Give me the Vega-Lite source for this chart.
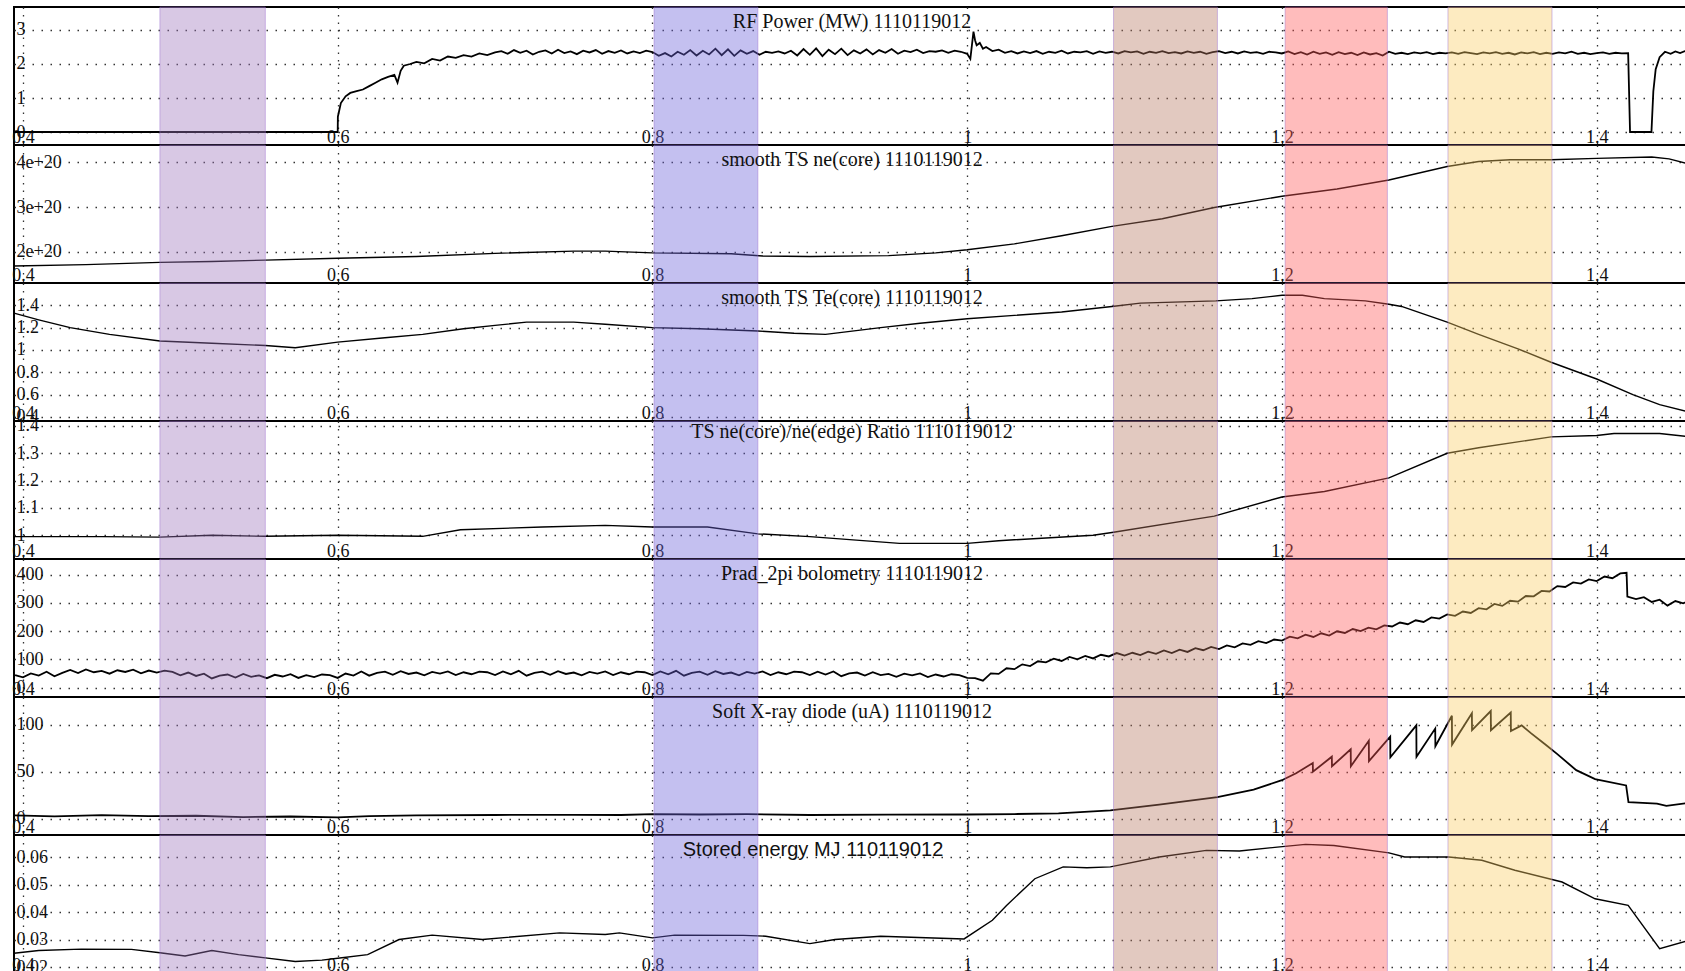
{
  "$schema": "https://vega.github.io/schema/vega-lite/v6.json",
  "padding": {"left": 9, "top": 5, "right": 0, "bottom": 0},
  "spacing": 0,
  "bounds": "flush",
  "background": "white",
  "config": {
    "view": {"stroke": "black", "strokeWidth": 2, "fill": "white"},
    "axis": {"domain": false, "ticks": false, "tickSize": 0, "grid": true, "gridColor": "#333333", "gridWidth": 1.3, "labelFont": "Liberation Serif", "labelFontSize": 18, "labelColor": "#111111", "title": null, "labelOverlap": false, "labelFlush": false, "zindex": 1, "format": ".3~g"},
    "axisX": {"labelBaseline": "alphabetic", "labelPadding": -3, "gridDash": [1.5, 6]},
    "axisY": {"labelAlign": "left", "labelPadding": -2, "labelBaseline": "middle", "gridDash": [1.5, 7.5]},
    "title": {"font": "Liberation Serif", "fontSize": 20, "fontWeight": "normal", "color": "#111111", "anchor": "middle", "baseline": "top", "offset": -25, "frame": "group"},
    "line": {"color": "black", "strokeWidth": 1.4, "clip": true},
    "rect": {"fillOpacity": 0.4, "stroke": "#9b6fd0", "strokeOpacity": 0.45, "strokeWidth": 1}
  },
  "datasets": {
    "bands": [
      {"t0": 0.487, "t1": 0.554, "c": "a"},
      {"t0": 0.801, "t1": 0.867, "c": "b"},
      {"t0": 1.093, "t1": 1.159, "c": "c"},
      {"t0": 1.202, "t1": 1.267, "c": "d"},
      {"t0": 1.3055, "t1": 1.3716, "c": "e"}
    ],
    "rf": [
      {"t": 0.3943, "v": 0}, {"t": 0.6, "v": 0}, {"t": 0.6001, "v": 0.45}, {"t": 0.602, "v": 0.85}, {"t": 0.605, "v": 1.05}, {"t": 0.608, "v": 1.15}, {"t": 0.612, "v": 1.2}, {"t": 0.616, "v": 1.25}, {"t": 0.62, "v": 1.35}, {"t": 0.624, "v": 1.45}, {"t": 0.628, "v": 1.55}, {"t": 0.632, "v": 1.62}, {"t": 0.636, "v": 1.68}, {"t": 0.638, "v": 1.45}, {"t": 0.64, "v": 1.8}, {"t": 0.642, "v": 1.95}, {"t": 0.646, "v": 2.0}, {"t": 0.65, "v": 2.06}, {"t": 0.655, "v": 2.02}, {"t": 0.66, "v": 2.15}, {"t": 0.665, "v": 2.1}, {"t": 0.67, "v": 2.22}, {"t": 0.675, "v": 2.18}, {"t": 0.68, "v": 2.26}, {"t": 0.685, "v": 2.22}, {"t": 0.69, "v": 2.31}, {"t": 0.695, "v": 2.26}, {"t": 0.7, "v": 2.34},
      {"t": 0.704, "v": 2.38}, {"t": 0.708, "v": 2.3}, {"t": 0.712, "v": 2.41}, {"t": 0.716, "v": 2.33}, {"t": 0.72, "v": 2.39}, {"t": 0.724, "v": 2.28}, {"t": 0.728, "v": 2.36}, {"t": 0.732, "v": 2.4}, {"t": 0.736, "v": 2.31}, {"t": 0.74, "v": 2.42}, {"t": 0.744, "v": 2.32}, {"t": 0.748, "v": 2.37}, {"t": 0.752, "v": 2.29}, {"t": 0.756, "v": 2.39}, {"t": 0.76, "v": 2.34}, {"t": 0.764, "v": 2.41}, {"t": 0.768, "v": 2.3}, {"t": 0.772, "v": 2.38}, {"t": 0.776, "v": 2.33}, {"t": 0.78, "v": 2.4}, {"t": 0.784, "v": 2.31}, {"t": 0.788, "v": 2.37}, {"t": 0.792, "v": 2.32}, {"t": 0.796, "v": 2.39}, {"t": 0.8, "v": 2.35},
      {"t": 0.804, "v": 2.24}, {"t": 0.808, "v": 2.32}, {"t": 0.812, "v": 2.22}, {"t": 0.816, "v": 2.36}, {"t": 0.82, "v": 2.27}, {"t": 0.824, "v": 2.41}, {"t": 0.828, "v": 2.25}, {"t": 0.832, "v": 2.39}, {"t": 0.836, "v": 2.28}, {"t": 0.84, "v": 2.45}, {"t": 0.844, "v": 2.26}, {"t": 0.848, "v": 2.43}, {"t": 0.852, "v": 2.24}, {"t": 0.856, "v": 2.4}, {"t": 0.86, "v": 2.3}, {"t": 0.864, "v": 2.38}, {"t": 0.868, "v": 2.27}, {"t": 0.872, "v": 2.36}, {"t": 0.876, "v": 2.33}, {"t": 0.88, "v": 2.37}, {"t": 0.884, "v": 2.31}, {"t": 0.888, "v": 2.39}, {"t": 0.892, "v": 2.25}, {"t": 0.896, "v": 2.44}, {"t": 0.9, "v": 2.27}, {"t": 0.904, "v": 2.46}, {"t": 0.908, "v": 2.23}, {"t": 0.912, "v": 2.42}, {"t": 0.916, "v": 2.29}, {"t": 0.92, "v": 2.45}, {"t": 0.924, "v": 2.26}, {"t": 0.928, "v": 2.4}, {"t": 0.932, "v": 2.31}, {"t": 0.936, "v": 2.43}, {"t": 0.94, "v": 2.28}, {"t": 0.944, "v": 2.41}, {"t": 0.948, "v": 2.33}, {"t": 0.952, "v": 2.44}, {"t": 0.956, "v": 2.3}, {"t": 0.96, "v": 2.39}, {"t": 0.964, "v": 2.35}, {"t": 0.968, "v": 2.42}, {"t": 0.972, "v": 2.32}, {"t": 0.976, "v": 2.38}, {"t": 0.98, "v": 2.36}, {"t": 0.984, "v": 2.4}, {"t": 0.988, "v": 2.33}, {"t": 0.992, "v": 2.39}, {"t": 0.996, "v": 2.36}, {"t": 1.0, "v": 2.3},
      {"t": 1.002, "v": 2.15}, {"t": 1.004, "v": 2.95}, {"t": 1.005, "v": 2.7}, {"t": 1.006, "v": 2.55}, {"t": 1.008, "v": 2.62}, {"t": 1.01, "v": 2.45}, {"t": 1.012, "v": 2.5}, {"t": 1.016, "v": 2.38}, {"t": 1.02, "v": 2.42}, {"t": 1.024, "v": 2.33}, {"t": 1.028, "v": 2.38}, {"t": 1.032, "v": 2.31}, {"t": 1.036, "v": 2.37}, {"t": 1.04, "v": 2.32}, {"t": 1.044, "v": 2.38}, {"t": 1.048, "v": 2.3}, {"t": 1.052, "v": 2.36}, {"t": 1.056, "v": 2.33}, {"t": 1.06, "v": 2.39}, {"t": 1.064, "v": 2.31}, {"t": 1.068, "v": 2.36}, {"t": 1.072, "v": 2.34}, {"t": 1.076, "v": 2.38}, {"t": 1.08, "v": 2.3}, {"t": 1.084, "v": 2.37}, {"t": 1.088, "v": 2.33}, {"t": 1.092, "v": 2.36}, {"t": 1.096, "v": 2.31}, {"t": 1.1, "v": 2.38}, {"t": 1.104, "v": 2.34}, {"t": 1.108, "v": 2.37}, {"t": 1.112, "v": 2.3}, {"t": 1.116, "v": 2.36}, {"t": 1.12, "v": 2.33}, {"t": 1.124, "v": 2.38}, {"t": 1.128, "v": 2.32}, {"t": 1.132, "v": 2.35}, {"t": 1.136, "v": 2.31}, {"t": 1.14, "v": 2.37}, {"t": 1.144, "v": 2.33}, {"t": 1.148, "v": 2.36}, {"t": 1.152, "v": 2.3}, {"t": 1.156, "v": 2.35}, {"t": 1.16, "v": 2.38}, {"t": 1.164, "v": 2.32}, {"t": 1.168, "v": 2.36}, {"t": 1.172, "v": 2.31}, {"t": 1.176, "v": 2.37}, {"t": 1.18, "v": 2.33}, {"t": 1.184, "v": 2.35}, {"t": 1.188, "v": 2.3}, {"t": 1.192, "v": 2.36}, {"t": 1.196, "v": 2.34}, {"t": 1.2, "v": 2.31},
      {"t": 1.204, "v": 2.37}, {"t": 1.208, "v": 2.29}, {"t": 1.212, "v": 2.35}, {"t": 1.216, "v": 2.28}, {"t": 1.22, "v": 2.36}, {"t": 1.224, "v": 2.3}, {"t": 1.228, "v": 2.34}, {"t": 1.232, "v": 2.27}, {"t": 1.236, "v": 2.35}, {"t": 1.24, "v": 2.29}, {"t": 1.244, "v": 2.33}, {"t": 1.248, "v": 2.26}, {"t": 1.252, "v": 2.34}, {"t": 1.256, "v": 2.28}, {"t": 1.26, "v": 2.32}, {"t": 1.264, "v": 2.25}, {"t": 1.268, "v": 2.36}, {"t": 1.272, "v": 2.3}, {"t": 1.276, "v": 2.33}, {"t": 1.28, "v": 2.29}, {"t": 1.284, "v": 2.34}, {"t": 1.288, "v": 2.31}, {"t": 1.292, "v": 2.35}, {"t": 1.296, "v": 2.29}, {"t": 1.3, "v": 2.33}, {"t": 1.304, "v": 2.31}, {"t": 1.308, "v": 2.34}, {"t": 1.312, "v": 2.3}, {"t": 1.316, "v": 2.35}, {"t": 1.32, "v": 2.32}, {"t": 1.324, "v": 2.29}, {"t": 1.328, "v": 2.34}, {"t": 1.332, "v": 2.31}, {"t": 1.336, "v": 2.35}, {"t": 1.34, "v": 2.3}, {"t": 1.344, "v": 2.33}, {"t": 1.348, "v": 2.28}, {"t": 1.352, "v": 2.34}, {"t": 1.356, "v": 2.31}, {"t": 1.36, "v": 2.35}, {"t": 1.364, "v": 2.29}, {"t": 1.368, "v": 2.33}, {"t": 1.372, "v": 2.3}, {"t": 1.376, "v": 2.34}, {"t": 1.38, "v": 2.31}, {"t": 1.384, "v": 2.36}, {"t": 1.388, "v": 2.3}, {"t": 1.392, "v": 2.33}, {"t": 1.396, "v": 2.29}, {"t": 1.4, "v": 2.32}, {"t": 1.404, "v": 2.34}, {"t": 1.408, "v": 2.3}, {"t": 1.412, "v": 2.33}, {"t": 1.416, "v": 2.31}, {"t": 1.42, "v": 2.32},
      {"t": 1.4212, "v": 0}, {"t": 1.4348, "v": 0}, {"t": 1.436, "v": 1.2}, {"t": 1.4375, "v": 1.85}, {"t": 1.44, "v": 2.2}, {"t": 1.4434, "v": 2.36}, {"t": 1.447, "v": 2.3}, {"t": 1.45, "v": 2.37}, {"t": 1.453, "v": 2.32}, {"t": 1.456, "v": 2.38}, {"t": 1.46, "v": 2.34}
    ],
    "ne": [
      {"t": 0.3943, "v": 1.69e20}, {"t": 0.44, "v": 1.72e20}, {"t": 0.487, "v": 1.77e20}, {"t": 0.52, "v": 1.79e20}, {"t": 0.554, "v": 1.82e20}, {"t": 0.6, "v": 1.86e20}, {"t": 0.65, "v": 1.9e20}, {"t": 0.7, "v": 1.97e20}, {"t": 0.75, "v": 2.02e20}, {"t": 0.77, "v": 2.02e20}, {"t": 0.8, "v": 1.98e20}, {"t": 0.85, "v": 1.96e20}, {"t": 0.87, "v": 1.91e20}, {"t": 0.9, "v": 1.9e20}, {"t": 0.95, "v": 1.92e20}, {"t": 0.98, "v": 1.98e20}, {"t": 1.0, "v": 2.05e20}, {"t": 1.03, "v": 2.18e20}, {"t": 1.06, "v": 2.36e20}, {"t": 1.092, "v": 2.57e20}, {"t": 1.124, "v": 2.74e20}, {"t": 1.157, "v": 2.99e20}, {"t": 1.2, "v": 3.24e20}, {"t": 1.235, "v": 3.4e20}, {"t": 1.268, "v": 3.6e20}, {"t": 1.305, "v": 3.9e20}, {"t": 1.325, "v": 4.01e20}, {"t": 1.345, "v": 4.05e20}, {"t": 1.371, "v": 4.05e20}, {"t": 1.4, "v": 4.08e20}, {"t": 1.435, "v": 4.11e20}, {"t": 1.446, "v": 4.07e20}, {"t": 1.46, "v": 3.94e20}
    ],
    "te": [
      {"t": 0.3943, "v": 1.33}, {"t": 0.41, "v": 1.27}, {"t": 0.43, "v": 1.2}, {"t": 0.455, "v": 1.14}, {"t": 0.487, "v": 1.08}, {"t": 0.52, "v": 1.06}, {"t": 0.554, "v": 1.04}, {"t": 0.573, "v": 1.02}, {"t": 0.6, "v": 1.07}, {"t": 0.63, "v": 1.11}, {"t": 0.654, "v": 1.14}, {"t": 0.68, "v": 1.19}, {"t": 0.7, "v": 1.22}, {"t": 0.72, "v": 1.25}, {"t": 0.75, "v": 1.25}, {"t": 0.77, "v": 1.23}, {"t": 0.8, "v": 1.2}, {"t": 0.83, "v": 1.19}, {"t": 0.867, "v": 1.17}, {"t": 0.89, "v": 1.15}, {"t": 0.91, "v": 1.14}, {"t": 0.945, "v": 1.2}, {"t": 0.97, "v": 1.24}, {"t": 1.0, "v": 1.28}, {"t": 1.03, "v": 1.31}, {"t": 1.06, "v": 1.34}, {"t": 1.092, "v": 1.39}, {"t": 1.11, "v": 1.42}, {"t": 1.158, "v": 1.44}, {"t": 1.181, "v": 1.46}, {"t": 1.2, "v": 1.49}, {"t": 1.213, "v": 1.49}, {"t": 1.227, "v": 1.46}, {"t": 1.253, "v": 1.44}, {"t": 1.268, "v": 1.41}, {"t": 1.276, "v": 1.39}, {"t": 1.305, "v": 1.25}, {"t": 1.325, "v": 1.14}, {"t": 1.35, "v": 1.01}, {"t": 1.371, "v": 0.89}, {"t": 1.4, "v": 0.74}, {"t": 1.423, "v": 0.6}, {"t": 1.44, "v": 0.51}, {"t": 1.46, "v": 0.44}
    ],
    "ratio": [
      {"t": 0.3943, "v": 0.995}, {"t": 0.45, "v": 0.995}, {"t": 0.487, "v": 0.993}, {"t": 0.52, "v": 1.0}, {"t": 0.554, "v": 0.996}, {"t": 0.6, "v": 1.0}, {"t": 0.654, "v": 0.996}, {"t": 0.678, "v": 1.02}, {"t": 0.73, "v": 1.03}, {"t": 0.77, "v": 1.036}, {"t": 0.8, "v": 1.03}, {"t": 0.835, "v": 1.03}, {"t": 0.867, "v": 1.005}, {"t": 0.9, "v": 0.995}, {"t": 0.957, "v": 0.97}, {"t": 1.0, "v": 0.97}, {"t": 1.02, "v": 0.98}, {"t": 1.08, "v": 1.0}, {"t": 1.092, "v": 1.01}, {"t": 1.157, "v": 1.07}, {"t": 1.2, "v": 1.14}, {"t": 1.227, "v": 1.16}, {"t": 1.268, "v": 1.21}, {"t": 1.305, "v": 1.3}, {"t": 1.325, "v": 1.32}, {"t": 1.371, "v": 1.36}, {"t": 1.4, "v": 1.365}, {"t": 1.411, "v": 1.372}, {"t": 1.44, "v": 1.372}, {"t": 1.46, "v": 1.36}
    ],
    "prad": [
      {"t": 0.395, "v": 44}, {"t": 0.4, "v": 36}, {"t": 0.405, "v": 50}, {"t": 0.41, "v": 42}, {"t": 0.415, "v": 56}, {"t": 0.42, "v": 40}, {"t": 0.425, "v": 52}, {"t": 0.43, "v": 62}, {"t": 0.435, "v": 51}, {"t": 0.44, "v": 64}, {"t": 0.445, "v": 54}, {"t": 0.45, "v": 59}, {"t": 0.455, "v": 49}, {"t": 0.46, "v": 61}, {"t": 0.465, "v": 55}, {"t": 0.47, "v": 63}, {"t": 0.475, "v": 50}, {"t": 0.48, "v": 60}, {"t": 0.485, "v": 53}, {"t": 0.49, "v": 60}, {"t": 0.495, "v": 55}, {"t": 0.5, "v": 43}, {"t": 0.505, "v": 53}, {"t": 0.51, "v": 41}, {"t": 0.515, "v": 49}, {"t": 0.52, "v": 32}, {"t": 0.525, "v": 42}, {"t": 0.53, "v": 46}, {"t": 0.535, "v": 35}, {"t": 0.54, "v": 48}, {"t": 0.545, "v": 38}, {"t": 0.55, "v": 43}, {"t": 0.555, "v": 33}, {"t": 0.56, "v": 45}, {"t": 0.565, "v": 39}, {"t": 0.57, "v": 47}, {"t": 0.575, "v": 34}, {"t": 0.58, "v": 44}, {"t": 0.585, "v": 37}, {"t": 0.59, "v": 46}, {"t": 0.595, "v": 44}, {"t": 0.6, "v": 34},
      {"t": 0.605, "v": 49.5}, {"t": 0.61, "v": 42}, {"t": 0.615, "v": 56.5}, {"t": 0.62, "v": 42}, {"t": 0.625, "v": 52}, {"t": 0.63, "v": 56}, {"t": 0.635, "v": 45}, {"t": 0.64, "v": 58}, {"t": 0.645, "v": 48}, {"t": 0.65, "v": 53}, {"t": 0.655, "v": 43}, {"t": 0.66, "v": 55}, {"t": 0.665, "v": 49}, {"t": 0.67, "v": 57}, {"t": 0.675, "v": 44}, {"t": 0.68, "v": 54}, {"t": 0.685, "v": 47}, {"t": 0.69, "v": 56}, {"t": 0.695, "v": 54}, {"t": 0.7, "v": 44}, {"t": 0.705, "v": 57}, {"t": 0.71, "v": 47}, {"t": 0.715, "v": 59}, {"t": 0.72, "v": 42}, {"t": 0.725, "v": 52}, {"t": 0.73, "v": 56}, {"t": 0.735, "v": 45}, {"t": 0.74, "v": 58}, {"t": 0.745, "v": 48}, {"t": 0.75, "v": 53}, {"t": 0.755, "v": 43}, {"t": 0.76, "v": 55}, {"t": 0.765, "v": 49}, {"t": 0.77, "v": 57}, {"t": 0.775, "v": 44}, {"t": 0.78, "v": 54}, {"t": 0.785, "v": 47}, {"t": 0.79, "v": 56}, {"t": 0.795, "v": 54}, {"t": 0.8, "v": 44},
      {"t": 0.805, "v": 57}, {"t": 0.81, "v": 47}, {"t": 0.815, "v": 59}, {"t": 0.82, "v": 42}, {"t": 0.825, "v": 52}, {"t": 0.83, "v": 56}, {"t": 0.835, "v": 45}, {"t": 0.84, "v": 58}, {"t": 0.845, "v": 48}, {"t": 0.85, "v": 53}, {"t": 0.855, "v": 43}, {"t": 0.86, "v": 55}, {"t": 0.865, "v": 49}, {"t": 0.87, "v": 57}, {"t": 0.875, "v": 44}, {"t": 0.88, "v": 54}, {"t": 0.885, "v": 47}, {"t": 0.89, "v": 56}, {"t": 0.895, "v": 54}, {"t": 0.9, "v": 44}, {"t": 0.905, "v": 56}, {"t": 0.91, "v": 46}, {"t": 0.915, "v": 57}, {"t": 0.92, "v": 40}, {"t": 0.925, "v": 50}, {"t": 0.93, "v": 53}, {"t": 0.935, "v": 42}, {"t": 0.94, "v": 54}, {"t": 0.945, "v": 44}, {"t": 0.95, "v": 48}, {"t": 0.955, "v": 38}, {"t": 0.96, "v": 49}, {"t": 0.965, "v": 43}, {"t": 0.97, "v": 50}, {"t": 0.975, "v": 37}, {"t": 0.98, "v": 46}, {"t": 0.985, "v": 39}, {"t": 0.99, "v": 47}, {"t": 0.995, "v": 44}, {"t": 1.0, "v": 34},
      {"t": 1.005, "v": 33}, {"t": 1.01, "v": 24}, {"t": 1.015, "v": 50}, {"t": 1.02, "v": 48}, {"t": 1.025, "v": 68}, {"t": 1.03, "v": 65}, {"t": 1.035, "v": 82}, {"t": 1.04, "v": 76}, {"t": 1.045, "v": 93}, {"t": 1.05, "v": 89}, {"t": 1.055, "v": 102}, {"t": 1.06, "v": 94}, {"t": 1.065, "v": 108}, {"t": 1.07, "v": 100}, {"t": 1.075, "v": 112}, {"t": 1.08, "v": 103}, {"t": 1.085, "v": 116}, {"t": 1.09, "v": 110}, {"t": 1.095, "v": 122}, {"t": 1.1, "v": 113}, {"t": 1.105, "v": 123}, {"t": 1.11, "v": 115}, {"t": 1.115, "v": 127}, {"t": 1.12, "v": 119}, {"t": 1.125, "v": 131}, {"t": 1.13, "v": 122}, {"t": 1.135, "v": 134}, {"t": 1.14, "v": 126}, {"t": 1.145, "v": 139}, {"t": 1.15, "v": 132}, {"t": 1.155, "v": 144}, {"t": 1.16, "v": 136}, {"t": 1.165, "v": 149}, {"t": 1.17, "v": 142}, {"t": 1.175, "v": 156}, {"t": 1.18, "v": 151}, {"t": 1.185, "v": 164}, {"t": 1.19, "v": 157}, {"t": 1.195, "v": 170}, {"t": 1.2, "v": 166},
      {"t": 1.205, "v": 180}, {"t": 1.21, "v": 174}, {"t": 1.215, "v": 187}, {"t": 1.22, "v": 179}, {"t": 1.225, "v": 192}, {"t": 1.23, "v": 184}, {"t": 1.235, "v": 199}, {"t": 1.24, "v": 193}, {"t": 1.245, "v": 207}, {"t": 1.25, "v": 200}, {"t": 1.255, "v": 212}, {"t": 1.26, "v": 206}, {"t": 1.265, "v": 220}, {"t": 1.27, "v": 216}, {"t": 1.275, "v": 230}, {"t": 1.28, "v": 224}, {"t": 1.285, "v": 238}, {"t": 1.29, "v": 232}, {"t": 1.295, "v": 248}, {"t": 1.3, "v": 244}, {"t": 1.305, "v": 259}, {"t": 1.31, "v": 254}, {"t": 1.315, "v": 269}, {"t": 1.32, "v": 264}, {"t": 1.325, "v": 281}, {"t": 1.33, "v": 277}, {"t": 1.335, "v": 296}, {"t": 1.34, "v": 289}, {"t": 1.345, "v": 307}, {"t": 1.35, "v": 304}, {"t": 1.355, "v": 324}, {"t": 1.36, "v": 323}, {"t": 1.365, "v": 342}, {"t": 1.37, "v": 340}, {"t": 1.375, "v": 359}, {"t": 1.38, "v": 356}, {"t": 1.385, "v": 372}, {"t": 1.39, "v": 368}, {"t": 1.395, "v": 383}, {"t": 1.4, "v": 377}, {"t": 1.405, "v": 393}, {"t": 1.41, "v": 387}, {"t": 1.415, "v": 404}, {"t": 1.419, "v": 406}, {"t": 1.4195, "v": 322}, {"t": 1.425, "v": 313}, {"t": 1.43, "v": 320}, {"t": 1.435, "v": 303}, {"t": 1.44, "v": 311}, {"t": 1.445, "v": 290}, {"t": 1.45, "v": 306}, {"t": 1.455, "v": 298}, {"t": 1.46, "v": 310}
    ],
    "sxr": [
      {"t": 0.3943, "v": 3.5}, {"t": 0.42, "v": 2.5}, {"t": 0.45, "v": 3.8}, {"t": 0.48, "v": 2.8}, {"t": 0.51, "v": 3.2}, {"t": 0.54, "v": 1.8}, {"t": 0.57, "v": 2.4}, {"t": 0.6, "v": 1.5}, {"t": 0.62, "v": 2.8}, {"t": 0.65, "v": 3.5}, {"t": 0.7, "v": 4.0}, {"t": 0.75, "v": 4.2}, {"t": 0.78, "v": 4.0}, {"t": 0.8, "v": 5.0}, {"t": 0.83, "v": 4.5}, {"t": 0.86, "v": 4.8}, {"t": 0.9, "v": 4.0}, {"t": 0.95, "v": 4.3}, {"t": 1.0, "v": 4.5}, {"t": 1.03, "v": 5.0}, {"t": 1.058, "v": 5.8}, {"t": 1.091, "v": 9}, {"t": 1.122, "v": 15}, {"t": 1.159, "v": 23}, {"t": 1.182, "v": 31}, {"t": 1.2, "v": 41}, {"t": 1.209, "v": 48.3},
      {"t": 1.2196, "v": 59.2}, {"t": 1.2197, "v": 50}, {"t": 1.2317, "v": 66}, {"t": 1.2318, "v": 55.8}, {"t": 1.2437, "v": 73.8}, {"t": 1.2438, "v": 55.8}, {"t": 1.2552, "v": 83}, {"t": 1.2553, "v": 61.2}, {"t": 1.2688, "v": 87.4}, {"t": 1.2689, "v": 65.3}, {"t": 1.2854, "v": 99.3}, {"t": 1.2855, "v": 66}, {"t": 1.2974, "v": 95.9}, {"t": 1.2975, "v": 77.2}, {"t": 1.308, "v": 109.5}, {"t": 1.3081, "v": 78.9}, {"t": 1.3207, "v": 112.2}, {"t": 1.3208, "v": 94.2}, {"t": 1.3327, "v": 114.6}, {"t": 1.3328, "v": 94.2}, {"t": 1.3454, "v": 112.9}, {"t": 1.3455, "v": 93.2},
      {"t": 1.3523, "v": 99.3}, {"t": 1.3584, "v": 90.8}, {"t": 1.3674, "v": 78.9}, {"t": 1.375, "v": 68.7}, {"t": 1.387, "v": 51.7}, {"t": 1.399, "v": 42.2}, {"t": 1.4187, "v": 35.4}, {"t": 1.4202, "v": 17.7}, {"t": 1.4383, "v": 16}, {"t": 1.4443, "v": 13.6}, {"t": 1.459, "v": 17}
    ],
    "wmhd": [
      {"t": 0.3943, "v": 0.025}, {"t": 0.41, "v": 0.026}, {"t": 0.437, "v": 0.0265}, {"t": 0.469, "v": 0.0264}, {"t": 0.487, "v": 0.0252}, {"t": 0.503, "v": 0.024}, {"t": 0.52, "v": 0.026}, {"t": 0.537, "v": 0.0245}, {"t": 0.554, "v": 0.0233}, {"t": 0.573, "v": 0.022}, {"t": 0.59, "v": 0.0225}, {"t": 0.6, "v": 0.0232}, {"t": 0.619, "v": 0.0245}, {"t": 0.639, "v": 0.03}, {"t": 0.66, "v": 0.0316}, {"t": 0.692, "v": 0.03}, {"t": 0.741, "v": 0.0324}, {"t": 0.77, "v": 0.0318}, {"t": 0.779, "v": 0.0324}, {"t": 0.8, "v": 0.0306}, {"t": 0.814, "v": 0.0316}, {"t": 0.858, "v": 0.0315}, {"t": 0.872, "v": 0.0312}, {"t": 0.9, "v": 0.0285}, {"t": 0.916, "v": 0.03}, {"t": 0.945, "v": 0.0312}, {"t": 0.998, "v": 0.0302}, {"t": 1.016, "v": 0.037}, {"t": 1.025, "v": 0.0424}, {"t": 1.043, "v": 0.0521}, {"t": 1.061, "v": 0.0564}, {"t": 1.076, "v": 0.0561}, {"t": 1.091, "v": 0.0564}, {"t": 1.122, "v": 0.06}, {"t": 1.152, "v": 0.0624}, {"t": 1.173, "v": 0.0622}, {"t": 1.197, "v": 0.0636}, {"t": 1.215, "v": 0.0646}, {"t": 1.233, "v": 0.0642}, {"t": 1.268, "v": 0.0615}, {"t": 1.278, "v": 0.06}, {"t": 1.306, "v": 0.06}, {"t": 1.327, "v": 0.0588}, {"t": 1.348, "v": 0.0552}, {"t": 1.378, "v": 0.0509}, {"t": 1.399, "v": 0.0448}, {"t": 1.42, "v": 0.0424}, {"t": 1.44, "v": 0.0267}, {"t": 1.459, "v": 0.0297}
    ]
  },
  "vconcat": [
    {
      "width": 1676, "height": 138,
      "title": {"text": "RF Power (MW) 1110119012"},
      "layer": [
        {"data": {"name": "rf"}, "mark": {"type": "line", "strokeWidth": 1.8}, "encoding": {"x": {"field": "t", "type": "quantitative", "scale": {"domain": [0.3943, 1.4593], "nice": false, "zero": false}, "axis": {"values": [0.4, 0.6, 0.8, 1, 1.2, 1.4]}}, "y": {"field": "v", "type": "quantitative", "scale": {"domain": [-0.382, 3.676], "nice": false, "zero": false}, "axis": {"values": [0, 1, 2, 3]}}}},
        {"data": {"name": "bands"}, "mark": "rect", "encoding": {"x": {"field": "t0", "type": "quantitative", "scale": {"domain": [0.3943, 1.4593], "nice": false, "zero": false}}, "x2": {"field": "t1"}, "color": {"field": "c", "type": "nominal", "scale": {"domain": ["a", "b", "c", "d", "e"], "range": ["#9e76bc", "#6c62da", "#b77862", "#ff5858", "#facd64"]}, "legend": null}}}
      ]
    },
    {
      "width": 1676, "height": 138,
      "title": {"text": "smooth TS ne(core) 1110119012"},
      "layer": [
        {"data": {"name": "ne"}, "mark": "line", "encoding": {"x": {"field": "t", "type": "quantitative", "scale": {"domain": [0.3943, 1.4593], "nice": false, "zero": false}, "axis": {"values": [0.4, 0.6, 0.8, 1, 1.2, 1.4]}}, "y": {"field": "v", "type": "quantitative", "scale": {"domain": [1.311e20, 4.378e20], "nice": false, "zero": false}, "axis": {"values": [2e20, 3e20, 4e20]}}}},
        {"data": {"name": "bands"}, "mark": "rect", "encoding": {"x": {"field": "t0", "type": "quantitative", "scale": {"domain": [0.3943, 1.4593], "nice": false, "zero": false}}, "x2": {"field": "t1"}, "color": {"field": "c", "type": "nominal", "legend": null}}}
      ]
    },
    {
      "width": 1676, "height": 138,
      "title": {"text": "smooth TS Te(core) 1110119012"},
      "layer": [
        {"data": {"name": "te"}, "mark": "line", "encoding": {"x": {"field": "t", "type": "quantitative", "scale": {"domain": [0.3943, 1.4593], "nice": false, "zero": false}, "axis": {"values": [0.4, 0.6, 0.8, 1, 1.2, 1.4]}}, "y": {"field": "v", "type": "quantitative", "scale": {"domain": [0.364, 1.6], "nice": false, "zero": false}, "axis": {"values": [0.4, 0.6, 0.8, 1, 1.2, 1.4]}}}},
        {"data": {"name": "bands"}, "mark": "rect", "encoding": {"x": {"field": "t0", "type": "quantitative", "scale": {"domain": [0.3943, 1.4593], "nice": false, "zero": false}}, "x2": {"field": "t1"}, "color": {"field": "c", "type": "nominal", "legend": null}}}
      ]
    },
    {
      "width": 1676, "height": 138,
      "title": {"text": "TS ne(core)/ne(edge) Ratio 1110119012"},
      "layer": [
        {"data": {"name": "ratio"}, "mark": "line", "encoding": {"x": {"field": "t", "type": "quantitative", "scale": {"domain": [0.3943, 1.4593], "nice": false, "zero": false}, "axis": {"values": [0.4, 0.6, 0.8, 1, 1.2, 1.4]}}, "y": {"field": "v", "type": "quantitative", "scale": {"domain": [0.913, 1.418], "nice": false, "zero": false}, "axis": {"values": [1, 1.1, 1.2, 1.3, 1.4]}}}},
        {"data": {"name": "bands"}, "mark": "rect", "encoding": {"x": {"field": "t0", "type": "quantitative", "scale": {"domain": [0.3943, 1.4593], "nice": false, "zero": false}}, "x2": {"field": "t1"}, "color": {"field": "c", "type": "nominal", "legend": null}}}
      ]
    },
    {
      "width": 1676, "height": 138,
      "title": {"text": "Prad_2pi bolometry 1110119012"},
      "layer": [
        {"data": {"name": "prad"}, "mark": {"type": "line", "strokeWidth": 1.8}, "encoding": {"x": {"field": "t", "type": "quantitative", "scale": {"domain": [0.3943, 1.4593], "nice": false, "zero": false}, "axis": {"values": [0.4, 0.6, 0.8, 1, 1.2, 1.4]}}, "y": {"field": "v", "type": "quantitative", "scale": {"domain": [-33.6, 455], "nice": false, "zero": false}, "axis": {"values": [0, 100, 200, 300, 400]}}}},
        {"data": {"name": "bands"}, "mark": "rect", "encoding": {"x": {"field": "t0", "type": "quantitative", "scale": {"domain": [0.3943, 1.4593], "nice": false, "zero": false}}, "x2": {"field": "t1"}, "color": {"field": "c", "type": "nominal", "legend": null}}}
      ]
    },
    {
      "width": 1676, "height": 138,
      "title": {"text": "Soft X-ray diode (uA) 1110119012"},
      "layer": [
        {"data": {"name": "sxr"}, "mark": {"type": "line", "strokeWidth": 1.8}, "encoding": {"x": {"field": "t", "type": "quantitative", "scale": {"domain": [0.3943, 1.4593], "nice": false, "zero": false}, "axis": {"values": [0.4, 0.6, 0.8, 1, 1.2, 1.4]}}, "y": {"field": "v", "type": "quantitative", "scale": {"domain": [-17.3, 129.5], "nice": false, "zero": false}, "axis": {"values": [0, 50, 100]}}}},
        {"data": {"name": "bands"}, "mark": "rect", "encoding": {"x": {"field": "t0", "type": "quantitative", "scale": {"domain": [0.3943, 1.4593], "nice": false, "zero": false}}, "x2": {"field": "t1"}, "color": {"field": "c", "type": "nominal", "legend": null}}}
      ]
    },
    {
      "width": 1676, "height": 138,
      "title": {"text": "Stored energy MJ  110119012", "font": "Liberation Sans", "dx": -39},
      "layer": [
        {"data": {"name": "wmhd"}, "mark": "line", "encoding": {"x": {"field": "t", "type": "quantitative", "scale": {"domain": [0.3943, 1.4593], "nice": false, "zero": false}, "axis": {"values": [0.4, 0.6, 0.8, 1, 1.2, 1.4]}}, "y": {"field": "v", "type": "quantitative", "scale": {"domain": [0.01782, 0.068], "nice": false, "zero": false}, "axis": {"values": [0.02, 0.03, 0.04, 0.05, 0.06]}}}},
        {"data": {"name": "bands"}, "mark": "rect", "encoding": {"x": {"field": "t0", "type": "quantitative", "scale": {"domain": [0.3943, 1.4593], "nice": false, "zero": false}}, "x2": {"field": "t1"}, "color": {"field": "c", "type": "nominal", "legend": null}}}
      ]
    }
  ]
}
